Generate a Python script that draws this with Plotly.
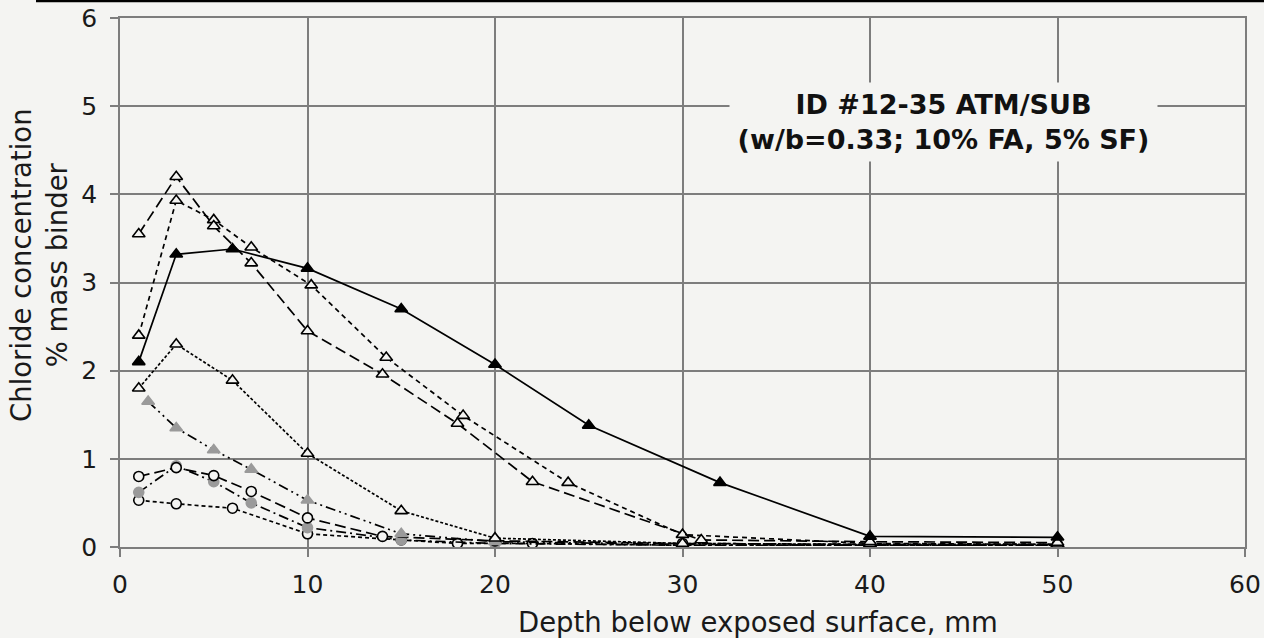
import plotly.graph_objects as go

# ---- data (depth in mm, chloride % mass binder) ----
a_x = [1, 3, 6, 10, 15, 20, 25, 32, 40, 50]
a_y = [2.10, 3.32, 3.38, 3.16, 2.70, 2.07, 1.38, 0.73, 0.12, 0.11]

b_x = [1, 3, 5, 7, 10, 14, 18, 22, 31, 40, 50]
b_y = [3.55, 4.20, 3.64, 3.22, 2.45, 1.96, 1.40, 0.74, 0.08, 0.06, 0.05]

c_x = [1, 3, 5, 7, 10.2, 14.2, 18.3, 23.9, 30, 40, 50]
c_y = [2.40, 3.93, 3.71, 3.40, 2.97, 2.15, 1.49, 0.73, 0.14, 0.04, 0.03]

d_x = [1, 3, 6, 10, 15, 20, 30, 40, 50]
d_y = [1.80, 2.30, 1.89, 1.06, 0.41, 0.10, 0.04, 0.03, 0.03]

e_x = [1.5, 3, 5, 7, 10, 15, 20, 30, 40, 50]
e_y = [1.65, 1.35, 1.10, 0.88, 0.53, 0.15, 0.06, 0.03, 0.02, 0.02]

f_x = [1, 3, 5, 7, 10, 14, 20, 30, 40, 50]
f_y = [0.80, 0.90, 0.81, 0.63, 0.33, 0.12, 0.07, 0.04, 0.03, 0.03]

g_x = [1, 3, 5, 7, 10, 15, 20, 30, 40, 50]
g_y = [0.62, 0.92, 0.74, 0.50, 0.22, 0.08, 0.04, 0.02, 0.02, 0.02]

h_x = [1, 3, 6, 10, 15, 18, 22, 30, 40, 50]
h_y = [0.53, 0.49, 0.44, 0.15, 0.08, 0.04, 0.04, 0.02, 0.02, 0.02]

x_ticks = [0, 10, 20, 30, 40, 50, 60]
y_ticks = [0, 1, 2, 3, 4, 5, 6]

BG = "#f4f4f2"
GRID = "#7d7d7d"
GRAY = "#9a9a9a"
FONT = "DejaVu Sans"

fig = go.Figure()

def add(x, y, dash, symbol, fill, edge, size):
    fig.add_trace(go.Scatter(
        x=x, y=y, mode="lines+markers",
        line=dict(color="black", width=1.7, dash=dash),
        marker=dict(symbol=symbol, size=size, color=fill,
                    line=dict(color=edge, width=1.6)),
        showlegend=False, hoverinfo="x+y"))

add(h_x, h_y, "4px,3px", "circle", BG, "black", 10)
add(g_x, g_y, "10px,4px,2px,4px", "circle", GRAY, GRAY, 10)
add(f_x, f_y, "11px,5px", "circle", BG, "black", 10)
add(e_x, e_y, "10px,4px,2px,4px,2px,4px", "triangle-up", GRAY, GRAY, 11)
add(d_x, d_y, "3px,2px", "triangle-up", BG, "black", 11)
add(c_x, c_y, "5px,4px", "triangle-up", BG, "black", 11)
add(b_x, b_y, "11px,5px", "triangle-up", BG, "black", 11)
add(a_x, a_y, "solid", "triangle-up", "black", "black", 11)

L, R, T, B = 120, 19, 18, 91
W, H = 1264, 638
pw, ph = W - L - R, H - T - B

axis_common = dict(showgrid=True, gridcolor=GRID, gridwidth=1.5,
                   zeroline=False, ticks="outside", ticklen=8,
                   tickcolor=GRID, tickwidth=1.5,
                   showline=True, mirror=True, linecolor=GRID, linewidth=1.5,
                   automargin=False, ticklabeloverflow="allow")

fig.update_layout(
    width=W, height=H,
    margin=dict(l=L, r=R, t=T, b=B, autoexpand=False),
    paper_bgcolor=BG, plot_bgcolor=BG,
    font=dict(family=FONT, size=25, color="#1a1a1a"),
    xaxis=dict(range=[0, 60], tickvals=x_ticks, ticklabelstandoff=6,
               **axis_common),
    yaxis=dict(range=[0, 6], tickvals=y_ticks, ticklabelstandoff=8,
               **axis_common),
    annotations=[
        dict(xref="paper", yref="paper",
             x=(758 - L) / pw, y=-(622 - (T + ph)) / ph,
             text="Depth below exposed surface, mm", showarrow=False,
             xanchor="center", yanchor="middle",
             font=dict(family=FONT, size=27.5)),
        dict(xref="paper", yref="paper",
             x=-(L - 39) / pw, y=(T + ph - 265) / ph,
             text="Chloride concentration<br>% mass binder", showarrow=False,
             textangle=-90, xanchor="center", yanchor="middle",
             font=dict(family=FONT, size=27.5)),
        dict(xref="paper", yref="paper",
             x=(943 - L) / pw, y=(T + ph - 122) / ph,
             text="<b>ID #12-35 ATM/SUB</b><br><b>(w/b=0.33; 10% FA, 5% SF)</b>",
             showarrow=False, xanchor="center", yanchor="middle",
             bgcolor=BG, borderpad=6, width=415,
             font=dict(family=FONT, size=27, color="#111111")),
    ],
    shapes=[
        dict(type="line", xref="paper", yref="paper",
             x0=-(L - 36) / pw, x1=1 + R / pw,
             y0=1 + (T - 1) / ph, y1=1 + (T - 1) / ph,
             line=dict(color="black", width=2.5)),
    ],
)

fig.write_html("out.html")
